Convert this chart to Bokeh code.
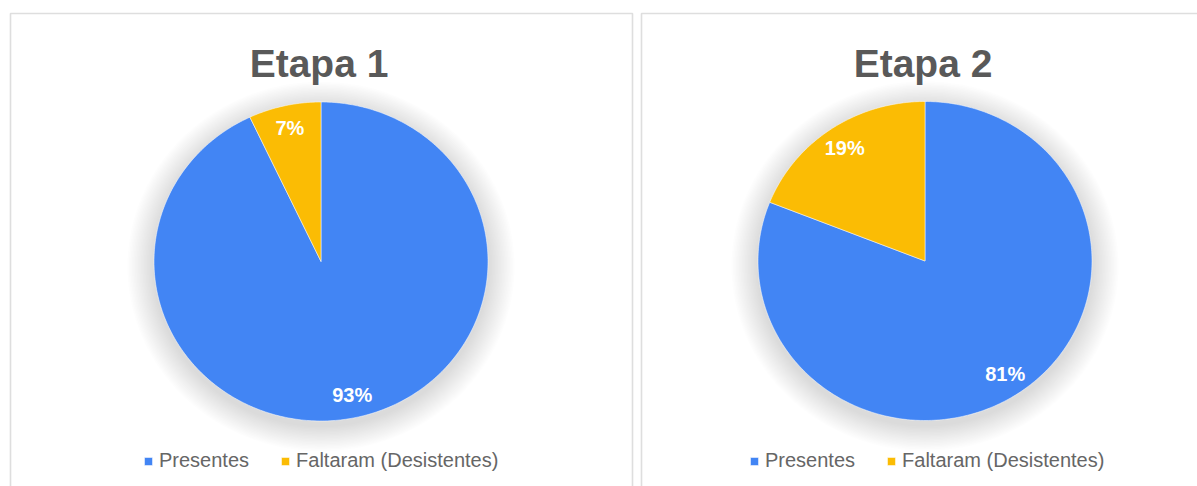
import numpy as np
from bokeh.plotting import figure
from bokeh.models import Range1d, Legend, LegendItem, ColumnDataSource
from bokeh.embed import file_html
from bokeh.resources import INLINE
from bokeh.core.properties import value

# ---- data ----
stages = ["Etapa 1", "Etapa 2"]
categories = ["Presentes", "Faltaram (Desistentes)"]
etapa1_values = [93, 7]
etapa2_values = [81, 19]
colors = ["#4285F4", "#FBBC04"]

# ---- layout (screen-like coordinates) ----
W, H = 1197, 486
p = figure(width=W, height=H, output_backend="svg", toolbar_location=None,
           x_range=Range1d(0, W), y_range=Range1d(H, 0),
           x_axis_location=None, y_axis_location=None, min_border=0,
           outline_line_color=None, background_fill_color="white",
           border_fill_color="white")
p.grid.visible = False

# panel frames
p.quad(left=[10, 641], right=[632, 1230], top=[13, 13], bottom=[520, 520],
       fill_color=None, line_color="#dedede", line_width=1.6)

panels = [
    dict(vals=etapa1_values, title=stages[0], cx=320.5, cy=261.0, leg_x=143),
    dict(vals=etapa2_values, title=stages[1], cx=924.5, cy=260.5, leg_x=749),
]
A, B = 167.0, 159.5

for pan in panels:
    cx, cy = pan["cx"], pan["cy"]
    vals = pan["vals"]
    total = float(sum(vals))

    # soft shadow
    n = 18
    for k in range(n):
        s = 1.0 + 0.16 * (k + 1) / n
        p.ellipse(x=[cx], y=[cy + 5], width=[2 * A * s], height=[2 * B * s],
                  width_units="screen", height_units="screen",
                  fill_color="black", fill_alpha=0.009, line_color=None)

    xs, ys, lx, ly, lt = [], [], [], [], []
    start = 0.0
    for v in vals:
        frac = v / total
        end = start + frac * 2 * np.pi
        t = np.linspace(start, end, max(int(frac * 400), 12))
        xs.append([cx] + list(cx + A * np.sin(t)))
        ys.append([cy] + list(cy - B * np.cos(t)))
        mid = 0.5 * (start + end)
        lx.append(cx + 0.855 * A * np.sin(mid))
        ly.append(cy - 0.855 * B * np.cos(mid))
        lt.append(f"{round(frac * 100)}%")
        start = end

    src = ColumnDataSource(dict(xs=xs, ys=ys, color=colors, label=categories))
    r = p.patches("xs", "ys", source=src, fill_color="color", line_color="white",
                  line_width=0.5)

    p.text(x=lx, y=ly, text=lt, text_color="white", text_font=value("Liberation Sans"),
           text_font_style="bold", text_font_size="20px", text_align="center",
           text_baseline="middle")

    p.text(x=[cx - 2], y=[63], text=[pan["title"]], text_color="#595959",
           text_font=value("Liberation Sans"), text_font_style="bold",
           text_font_size="39px", text_align="center", text_baseline="alphabetic")

    items = [LegendItem(label=categories[i], renderers=[r], index=i) for i in range(len(vals))]
    leg = Legend(items=items, location=(pan["leg_x"], 14), orientation="horizontal",
                 padding=0, margin=0, spacing=31, glyph_width=10, glyph_height=10,
                 label_standoff=6, label_height=20,
                 label_text_font="Liberation Sans", label_text_font_size="20px",
                 label_text_color="#666666", border_line_color=None,
                 background_fill_alpha=0)
    p.add_layout(leg)

open("out.html", "w").write(file_html(p, INLINE))
